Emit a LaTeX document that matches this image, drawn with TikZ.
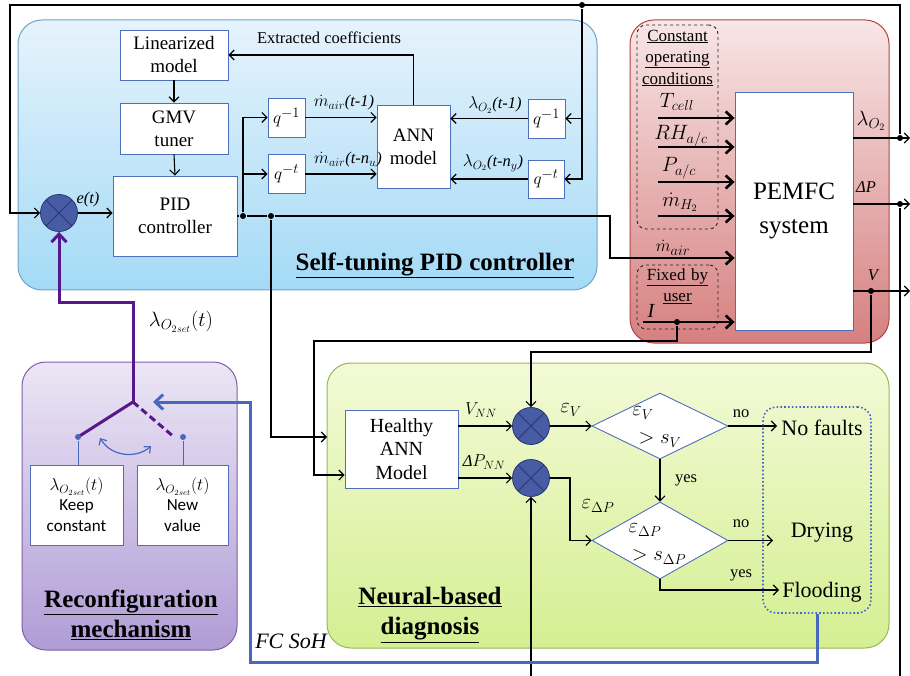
\documentclass[tikz,border=0pt]{standalone}
\usepackage{fontspec}
\setmainfont{Liberation Serif}
\newfontfamily\timesf{Liberation Serif}
\newfontfamily\calibf{Carlito}
\usetikzlibrary{arrows.meta,shapes.geometric,calc}
\definecolor{boxblue}{RGB}{80,110,190}
\definecolor{bluetop}{RGB}{230,243,252}
\definecolor{bluebot}{RGB}{164,218,246}
\definecolor{blueedge}{RGB}{110,165,205}
\definecolor{redtop}{RGB}{248,230,230}
\definecolor{redbot}{RGB}{214,128,128}
\definecolor{rededge}{RGB}{175,70,70}
\definecolor{purtop}{RGB}{236,230,245}
\definecolor{purbot}{RGB}{176,156,214}
\definecolor{puredge}{RGB}{125,95,170}
\definecolor{grntop}{RGB}{243,250,214}
\definecolor{grnbot}{RGB}{212,239,146}
\definecolor{grnedge}{RGB}{150,185,85}
\definecolor{sumfill}{RGB}{72,92,165}
\definecolor{sumedge}{RGB}{40,55,115}
\definecolor{purwire}{RGB}{88,24,140}
\definecolor{sohblue}{RGB}{72,104,190}
\newcommand\fzBox{\timesf\fontsize{19}{23}\selectfont}
\newcommand\fzHealthy{\timesf\fontsize{20}{23.5}\selectfont}
\newcommand\fzBig{\timesf\fontsize{25}{34}\selectfont}
\newcommand\fzTitle{\timesf\fontsize{25}{30}\selectfont\bfseries}
\newcommand\fzSmall{\timesf\fontsize{17}{21.5}\selectfont}
\newcommand\fzLab{\timesf\fontsize{16.5}{20}\selectfont}
\newcommand\fzMath{\timesf\fontsize{20}{24}\selectfont}
\newcommand\fzOut{\timesf\fontsize{22}{26}\selectfont}
\newcommand\fzSans{\calibf\fontsize{17}{21}\selectfont}
\begin{document}
\begin{tikzpicture}[x=1pt,y=-1pt,line width=1.1pt,
  >={Straight Barb[length=5pt,width=10pt]},
  box/.style={draw=boxblue,line width=0.9pt,fill=white,inner sep=0pt,font=\fzBox},
  mbox/.style={box,text width=#1,align=center},
  panel/.style={rounded corners=24pt,line width=1pt,inner sep=0pt},
  dbox/.style={draw=black!85,dashed,line width=0.9pt,rounded corners=9pt,inner sep=0pt},
  txt/.style={inner sep=0pt,align=center},
  mtxt/.style={inner sep=0pt,text width=#1,align=center},
  jdot/.style={circle,fill=black,inner sep=0pt,minimum size=6pt},
  bdot/.style={circle,fill=sohblue,inner sep=0pt,minimum size=6pt},
  thickin/.style={line width=2.6pt,-{Straight Barb[length=7pt,width=13pt]}},
  bigarrow/.style={line width=3pt,-{Straight Barb[length=8pt,width=15pt]}},
  dia/.style={draw=boxblue,line width=0.9pt,fill=white,diamond,inner sep=0pt},
  sumnode/.style={circle,fill=sumfill,draw=sumedge,line width=0.8pt,minimum size=37pt,inner sep=0pt,
    path picture={\draw[sumedge,line width=0.8pt] (path picture bounding box.north west) -- (path picture bounding box.south east)
      (path picture bounding box.north east) -- (path picture bounding box.south west);}}
]
\useasboundingbox (0,0) rectangle (910,676);

% panels
\node[panel,draw=blueedge,top color=bluetop,bottom color=bluebot,minimum width=579pt,minimum height=270pt] (bluep) at (307.5,155) {};
\node[panel,draw=rededge,top color=redtop,bottom color=redbot,minimum width=259pt,minimum height=323pt] (redp) at (759.5,181.5) {};
\node[panel,draw=puredge,top color=purtop,bottom color=purbot,minimum width=215pt,minimum height=288pt] (purp) at (129.5,506) {};
\node[panel,draw=grnedge,top color=grntop,bottom color=grnbot,minimum width=562pt,minimum height=285pt] (grnp) at (608,505.5) {};

% ---- self-tuning PID controller ----
\node[mbox=108pt,minimum height=50pt] (lin) at (174,55) {Linearized\\model};
\node[mbox=108pt,minimum height=51pt] (gmv) at (174,128.5) {GMV\\tuner};
\node[mbox=124pt,minimum height=80pt] (pid) at (175,216) {PID\\controller};
\node[sumnode] (s1) at (59,213) {};
\node[box,minimum width=37pt,minimum height=39pt] (qa) at (286.5,117.5) {$q^{-1}$};
\node[box,minimum width=37pt,minimum height=39pt] (qb) at (286.5,174) {$q^{-t}$};
\node[mbox=73pt,minimum height=83pt] (ann) at (413.5,147) {ANN\\model};
\node[box,minimum width=37pt,minimum height=39pt] (qc) at (546.5,118.5) {$q^{-1}$};
\node[box,minimum width=36pt,minimum height=38pt] (qd) at (546,179) {$q^{-t}$};

\draw[->] (lin.south) -- (gmv.north);
\draw[->] (gmv.south) -- (pid.north);
\draw[->] (s1.east) -- (pid.west |- s1.east);
\node[txt,font=\fzLab\itshape] (et) at (88,200) {e(t)};
\node[jdot] (j1) at (243,216) {};
\node[jdot] (j2) at (271,216) {};
\draw[->] (j1) |- (qa.west);
\draw[->] (j1) |- (qb.west);
\draw[->] (qa.east) -- (ann.west |- qa.east);
\draw[->] (qb.east) -- (ann.west |- qb.east);
\node[txt,font=\fzLab] (la) at (344,103) {$\dot{m}_{air}$\textit{(t-1)}};
\node[txt,font=\fzLab] (lb) at (348,160) {$\dot{m}_{air}$\textit{(t-n$_u$)}};
\node[jdot] (j3) at (582,5) {};
\draw[->] (j3) |- (qd.east);
\draw[->] (j3 |- qc.east) -- (qc.east);
\draw[->] (qc.west) -- (ann.east |- qc.west);
\draw[->] (qd.west) -- (ann.east |- qd.west);
\node[txt,font=\fzLab] (lc) at (495,105) {$\lambda_{O_2}$\textit{(t-1)}};
\node[txt,font=\fzLab] (ld) at (493,163) {$\lambda_{O_2}$\textit{(t-n$_y$)}};
\draw[->] (ann.north) |- (lin.east);
\node[txt,font=\fzLab] (ec) at (329,38) {Extracted coefficients};
\node[txt,font=\fzTitle] (t1) at (435,265) {\underline{Self-tuning PID controller}};

% top feedback
\node[jdot] (jl) at (900,138) {};
\draw[->] (jl) -- (900,5) -- (10,5) -- (10,213) -- (s1.west);

% ---- PEMFC ----
\node[dbox,minimum width=81pt,minimum height=204pt] (cpo) at (677.5,127) {};
\node[mtxt=80pt,font=\fzSmall] (cpot) at (677.5,58) {\underline{Constant}\\\underline{operating}\\\underline{conditions}};
\node[mbox=118pt,minimum height=238pt,font=\fzBig] (pemfc) at (794,211) {PEMFC\\system};
\draw[thickin] (658,118) -- (pemfc.west |- 0,118);
\draw[thickin] (658,147) -- (pemfc.west |- 0,147);
\draw[thickin] (658,182) -- (pemfc.west |- 0,182);
\draw[thickin] (658,216) -- (pemfc.west |- 0,216);
\node[txt,font=\fzMath] (tc) at (677,102) {$T_{cell}$};
\node[txt,font=\fzMath] (rh) at (681,136) {$RH_{a/c}$};
\node[txt,font=\fzMath] (pa) at (679,168) {$P_{a/c}$};
\node[txt,font=\fzMath] (mh) at (680,202) {$\dot{m}_{H_2}$};
\node[txt,font=\fzLab] (ma) at (673,248) {\fontsize{19}{22}\selectfont$\dot{m}_{air}$};
\draw (pid.east) -- (j1) -- (j2) -- (610,216) |- (658,258);
\draw[thickin] (658,258) -- (pemfc.west |- 0,258);

\node[dbox,minimum width=81pt,minimum height=64pt] (fbu) at (677.5,297) {};
\node[mtxt=80pt,font=\fzSmall] (fbut) at (677.5,286) {\underline{Fixed by}\\\underline{user}};
\node[txt,font=\fzMath\itshape] (il) at (651,311) {I};
\draw[thickin] (643,322) -- (pemfc.west |- 0,322);
\node[jdot] (ji) at (677,322) {};

% outputs
\draw[->] (pemfc.east |- jl) -- (910,138);
\node[jdot] (jdp) at (900,204) {};
\draw[->] (pemfc.east |- jdp) -- (910,204);
\draw (jdp) -- (900,676);
\node[jdot] (jv) at (871,291) {};
\draw[->] (pemfc.east |- jv) -- (910,291);
\node[txt,font=\fzMath] (ol) at (871,121) {$\lambda_{O_2}$};
\node[txt,font=\fzLab\itshape] (od) at (866,187) {ΔP};
\node[txt,font=\fzLab\itshape] (ov) at (873,275) {V};

% ---- neural-based diagnosis ----
\node[mbox=113pt,minimum height=78pt,font=\fzHealthy] (healthy) at (401.5,449) {Healthy\\ANN\\Model};
\node[sumnode] (s2) at (531,426) {};
\node[sumnode] (s3) at (531,478) {};
\node[dia,minimum width=136pt,minimum height=66pt] (dia1) at (660,426) {};
\node[dia,minimum width=136pt,minimum height=77pt] (dia2) at (660,540.5) {};
\node[txt,font=\fzMath] (d1a) at (643,413) {$\varepsilon_V$};
\node[txt,font=\fzMath] (d1b) at (660,440) {$>s_V$};
\node[txt,font=\fzMath] (d2a) at (645,530) {$\varepsilon_{\Delta P}$};
\node[txt,font=\fzMath] (d2b) at (659,557) {$>s_{\Delta P}$};

\draw[->] (jv) -- (871,352) -- (531,352) -- (s2.north);
\draw[->] (ji) -- (677,341) -- (314,341) -- (314,475) -- (healthy.west |- 0,475);
\draw[->] (j2) -- (271,437) -- (327,437);

\draw[->] (healthy.east |- s2) -- (s2.west);
\draw[->] (healthy.east |- s3) -- (s3.west);
\node[txt,font=\fzLab] (vnn) at (481,410) {$V_{NN}$};
\node[txt,font=\fzLab] (pnn) at (484,462) {\textit{Δ}$P_{NN}$};
\draw[->] (531,676) -- (s3.south);
\draw[->] (s2.east) -- (dia1.west);
\node[txt,font=\fzMath] (ev) at (571,410) {$\varepsilon_V$};
\draw[->] (s3.east) -- (570,478) -- (570,540.5) -- (dia2.west);
\node[txt,font=\fzMath] (edp) at (598,506) {$\varepsilon_{\Delta P}$};
\draw[->] (dia1.south) -- (dia2.north);
\node[txt,font=\fzLab] (y1) at (686,480) {yes};
\draw[->] (dia1.east) -- (777,426);
\node[txt,font=\fzLab] (n1) at (741,414) {no};
\draw[->] (dia2.east) -- (773,540.5);
\node[txt,font=\fzLab] (n2) at (741,524) {no};
\draw[->] (dia2.south) |- (779,590);
\node[txt,font=\fzLab] (y2) at (741,575) {yes};

\node[draw=sohblue,line width=1.6pt,dash pattern=on 1.6pt off 2.2pt,rounded corners=13pt,minimum width=108pt,minimum height=206pt,inner sep=0pt] (outc) at (817,510) {};
\node[txt,font=\fzOut] (nf) at (822,428) {No faults};
\node[txt,font=\fzOut] (dr) at (822,533) {Drying};
\node[txt,font=\fzOut] (fl) at (822,592) {Flooding};
\node[mtxt=200pt,font=\fzTitle] (t3) at (430,615) {\underline{Neural-based}\\\underline{diagnosis}};

% ---- reconfiguration mechanism ----
\coordinate (piv) at (133,402);
\draw[purwire,bigarrow] (piv) -- (133,303) -- (59,303) -- (s1.south);
\node[txt,font=\fzMath] (lset) at (181,322) {$\lambda_{{O_2}_{set}}(t)$};
\node[mbox=93pt,minimum height=80pt,font=\fzSans] (keep) at (76.5,505) {{\fzLab$\lambda_{{O_2}_{set}}(t)$}\\[-1pt]Keep\\constant};
\node[mbox=91pt,minimum height=80pt,font=\fzSans] (newv) at (182.5,505) {{\fzLab$\lambda_{{O_2}_{set}}(t)$}\\[-1pt]New\\value};
\draw[purwire,line width=3pt] (piv) -- (78,437);
\draw[purwire,line width=3pt,dash pattern=on 7pt off 4pt] (piv) -- (174,437);
\node[bdot] (da) at (78,437) {};
\node[bdot] (db) at (183,437) {};
\draw[sohblue,line width=1pt] (da) -- (keep.north -| da);
\draw[sohblue,line width=1pt] (db) -- (newv.north -| db);
\draw[sohblue,line width=1.2pt,{Straight Barb[length=5pt,width=9pt]}-{Straight Barb[length=5pt,width=9pt]}] (100,438) .. controls (112,458) and (138,458) .. (151,446);
\node[mtxt=210pt,font=\fzTitle] (t2) at (131,615) {\underline{Reconfiguration}\\\underline{mechanism}};

% FC SoH feedback
\draw[sohblue,bigarrow] (outc.south) -- (817,662) -- (250,662) -- (250,402) -- (153,402);
\node[txt,font=\fzOut\itshape] (soh) at (291,641) {FC SoH};
\end{tikzpicture}
\end{document}
